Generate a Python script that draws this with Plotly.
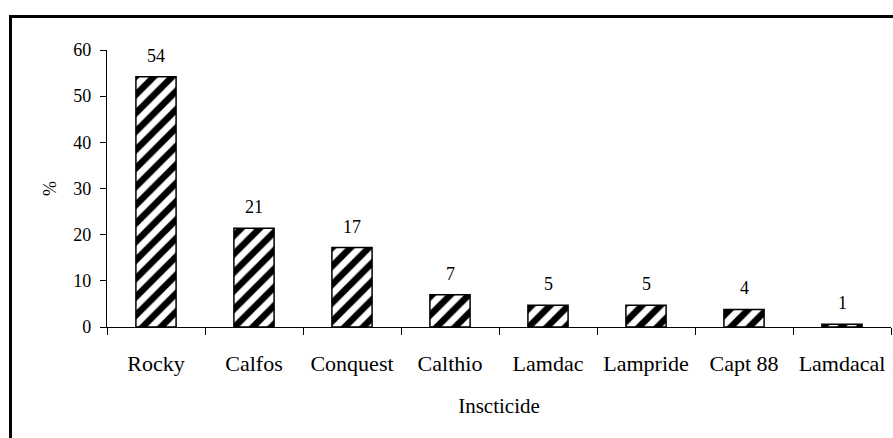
import plotly.graph_objects as go

categories = ["Rocky", "Calfos", "Conquest", "Calthio", "Lamdac", "Lampride", "Capt 88", "Lamdacal"]
values = [54.2, 21.4, 17.2, 7.0, 4.7, 4.7, 3.8, 0.6]
labels = ["54", "21", "17", "7", "5", "5", "4", "1"]
y_ticks = [0, 10, 20, 30, 40, 50, 60]

FONT = "Liberation Serif"

fig = go.Figure()
fig.add_trace(go.Bar(
    x=categories, y=values, width=0.41,
    marker=dict(color="white",
                line=dict(color="black", width=1.5),
                pattern=dict(shape="/", fgcolor="black", bgcolor="white", fgopacity=1,
                             size=13, solidity=0.5)),
    hoverinfo="skip",
))

for c, v, t in zip(categories, values, labels):
    fig.add_annotation(x=c, y=v, text=t, showarrow=False, yanchor="bottom", yshift=9,
                       font=dict(family=FONT, size=18, color="black"))

L, R, T, B = 107, 2, 50, 111
W, H = 893, 438
pw, ph = W - L - R, H - T - B

fig.add_shape(type="rect", xref="paper", yref="paper",
              x0=(10.5 - L) / pw, x1=1.2, y0=-0.6, y1=1 + (T - 16.5) / ph,
              line=dict(color="black", width=3), fillcolor="rgba(0,0,0,0)", layer="above")

fig.update_layout(
    width=W, height=H, margin=dict(l=L, r=R, t=T, b=B),
    paper_bgcolor="white", plot_bgcolor="white", showlegend=False,
    font=dict(family=FONT, color="black"),
    xaxis=dict(type="category", tickson="boundaries", ticks="outside", ticklen=7, tickwidth=1.3,
               tickcolor="black", showline=True, linecolor="black", linewidth=1.3,
               showgrid=False, tickfont=dict(family=FONT, size=22), ticklabelstandoff=16,
               title=dict(text="Inscticide", font=dict(family=FONT, size=21), standoff=23),
               range=[-0.5, 7.5]),
    yaxis=dict(range=[0, 60], tickvals=y_ticks, ticks="outside", ticklen=6, tickwidth=1.3,
               tickcolor="black", showline=True, linecolor="black", linewidth=1.3,
               showgrid=False, zeroline=False, tickfont=dict(family=FONT, size=18),
               ticklabelstandoff=5,
               title=dict(text="%", font=dict(family=FONT, size=18), standoff=11)),
)

fig.write_html("out.html", config={"displayModeBar": False},
               post_script="document.body.style.margin='0';document.body.style.overflow='hidden';")
